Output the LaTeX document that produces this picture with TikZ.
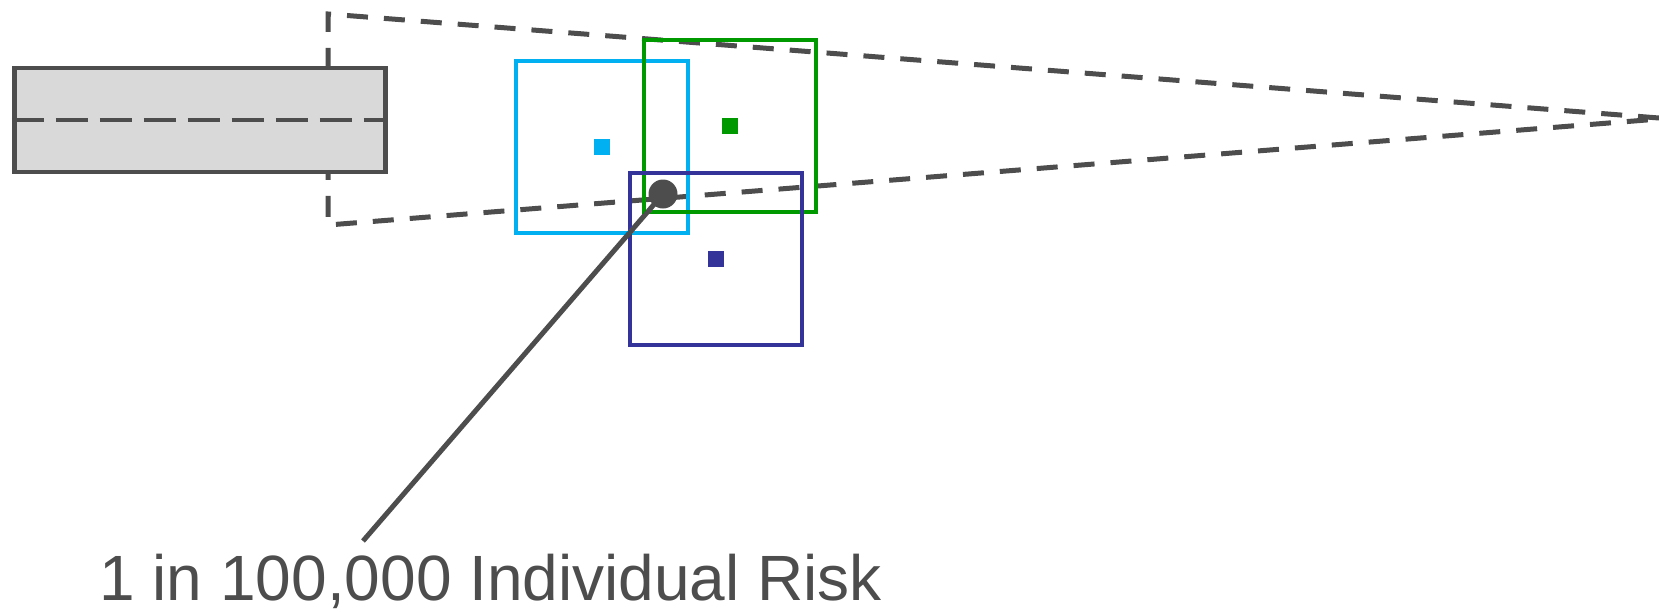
\documentclass[tikz,border=0pt]{standalone}
\usepackage{fontspec}
\setmainfont{Liberation Sans}
\usetikzlibrary{positioning}
\definecolor{riskgray}{HTML}{4D4D4D}
\definecolor{boxfill}{HTML}{D9D9D9}
\definecolor{cyanzone}{HTML}{00B0F0}
\definecolor{greenzone}{HTML}{009900}
\definecolor{navyzone}{HTML}{333399}

\begin{document}
\begin{tikzpicture}[x=0.5pt, y=-0.5pt,
    outline/.style={draw=riskgray, line width=2.5pt, dash pattern=on 10.5pt off 8pt},
    zone/.style={draw=#1, line width=2.3pt, minimum size=86pt, inner sep=0pt},
    centre/.style={fill=#1, minimum size=8pt, inner sep=0pt}]
    \useasboundingbox (0,0) rectangle (1659,611);

    % Zoom outline towards the right edge
    \draw[outline] (1659,118) -- (328,14) -- (328,225) -- (1659,119);

    % Source box with its centre line
    \node[draw=riskgray, fill=boxfill, line width=2.3pt, minimum width=185.75pt,
          minimum height=52pt, inner sep=0pt] (source) at (200,120) {};
    \draw[riskgray, line width=2.3pt, dash pattern=on 16pt off 6pt] (source.west) -- (source.east);

    % Three zones and their centres
    \node[zone=cyanzone] (zoneA) at (602,147) {};
    \node[centre=cyanzone] (midA) at (zoneA.center) {};
    \node[zone=greenzone] (zoneB) at (730,126) {};
    \node[centre=greenzone] (midB) at (zoneB.center) {};
    \node[zone=navyzone] (zoneC) at (716,259) {};
    \node[centre=navyzone] (midC) at (zoneC.center) {};

    % Risk point and its label
    \node[circle, fill=riskgray, minimum size=14.5pt, inner sep=0pt] (point) at (663,194) {};
    \node[anchor=base west, inner sep=0pt, text=riskgray, font=\fontsize{32}{38}\selectfont]
        (label) at (99,600) {1 in 100,000 Individual Risk};
    \coordinate (tip) at (363,541);
    \draw[riskgray, line width=2.5pt] (point.center) -- (tip);
\end{tikzpicture}
\end{document}
